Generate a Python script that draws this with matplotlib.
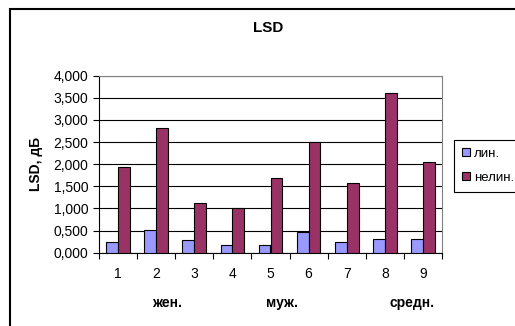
import matplotlib.pyplot as plt
import matplotlib.patches as mpatches
import numpy as np

plt.rcParams['font.family'] = ['Liberation Sans', 'DejaVu Sans']

# LSD values per recording
labels = ['1', '2', '3', '4', '5', '6', '7', '8', '9']
lin = [0.249, 0.505, 0.279, 0.166, 0.166, 0.467, 0.249, 0.309, 0.309]
nelin = [1.928, 2.825, 1.115, 1.002, 1.695, 2.508, 1.574, 3.608, 2.041]
groups = ['жен.', 'муж.', 'средн.']
group_pos = [1.28, 4.30, 7.72]

fig = plt.figure(figsize=(5.15, 3.26), dpi=100)
ax = fig.add_axes([99 / 515, 73.3 / 326, 343 / 515, 177 / 326])

x = np.arange(len(labels))
w = 0.31
ax.bar(x - w / 2, lin, w, color='#9999FF', edgecolor='black', linewidth=0.8,
       label='лин.', zorder=3)
ax.bar(x + w / 2, nelin, w, color='#993366', edgecolor='black', linewidth=0.8,
       label='нелин.', zorder=3)

ax.set_xlim(-0.5, len(labels) - 0.5)
ax.set_ylim(0, 4)
ax.set_yticks(np.arange(0, 4.01, 0.5))
ax.set_yticklabels([f'{v:.3f}'.replace('.', ',') for v in np.arange(0, 4.01, 0.5)],
                   fontsize=10)
ax.yaxis.grid(True, color='black', linewidth=0.8, zorder=0)

ax.set_xticks(np.arange(-0.5, len(labels), 1.0))
ax.set_xticklabels([])
ax.set_xticks(x, minor=True)
ax.set_xticklabels(labels, minor=True, fontsize=10)
ax.tick_params(axis='x', which='minor', length=0, pad=10)
ax.tick_params(axis='x', which='major', length=4, direction='out')
ax.tick_params(axis='y', length=4, direction='out')

for s in ['top', 'right']:
    ax.spines[s].set_color('#808080')
for s in ['left', 'bottom']:
    ax.spines[s].set_color('black')

ax.set_ylabel('LSD, дБ', fontsize=10, fontweight='bold', labelpad=8)

for g, p in zip(groups, group_pos):
    ax.text(p, -0.284, g, transform=ax.get_xaxis_transform(), ha='center',
            va='center', fontsize=10, fontweight='bold')

fig.text(268 / 515, 1 - 28 / 326, 'LSD', ha='center', va='center',
         fontsize=11, fontweight='bold')

leg = fig.legend(loc='upper left', bbox_to_anchor=(454 / 515, 1 - 140 / 326),
                 fontsize=9.5, frameon=True, fancybox=False, framealpha=1,
                 edgecolor='black', handlelength=0.6, handleheight=0.6,
                 handletextpad=0.3, labelspacing=0.9, borderpad=0.6,
                 borderaxespad=0)
leg.get_frame().set_linewidth(0.8)

# outer chart frame
fig.patches.append(mpatches.Rectangle((10 / 515, -0.1), 1.2, 1 - 8.5 / 326 + 0.1,
                                      transform=fig.transFigure, fill=False,
                                      edgecolor='black', linewidth=1.5))

fig.savefig('out.png', dpi=100)
